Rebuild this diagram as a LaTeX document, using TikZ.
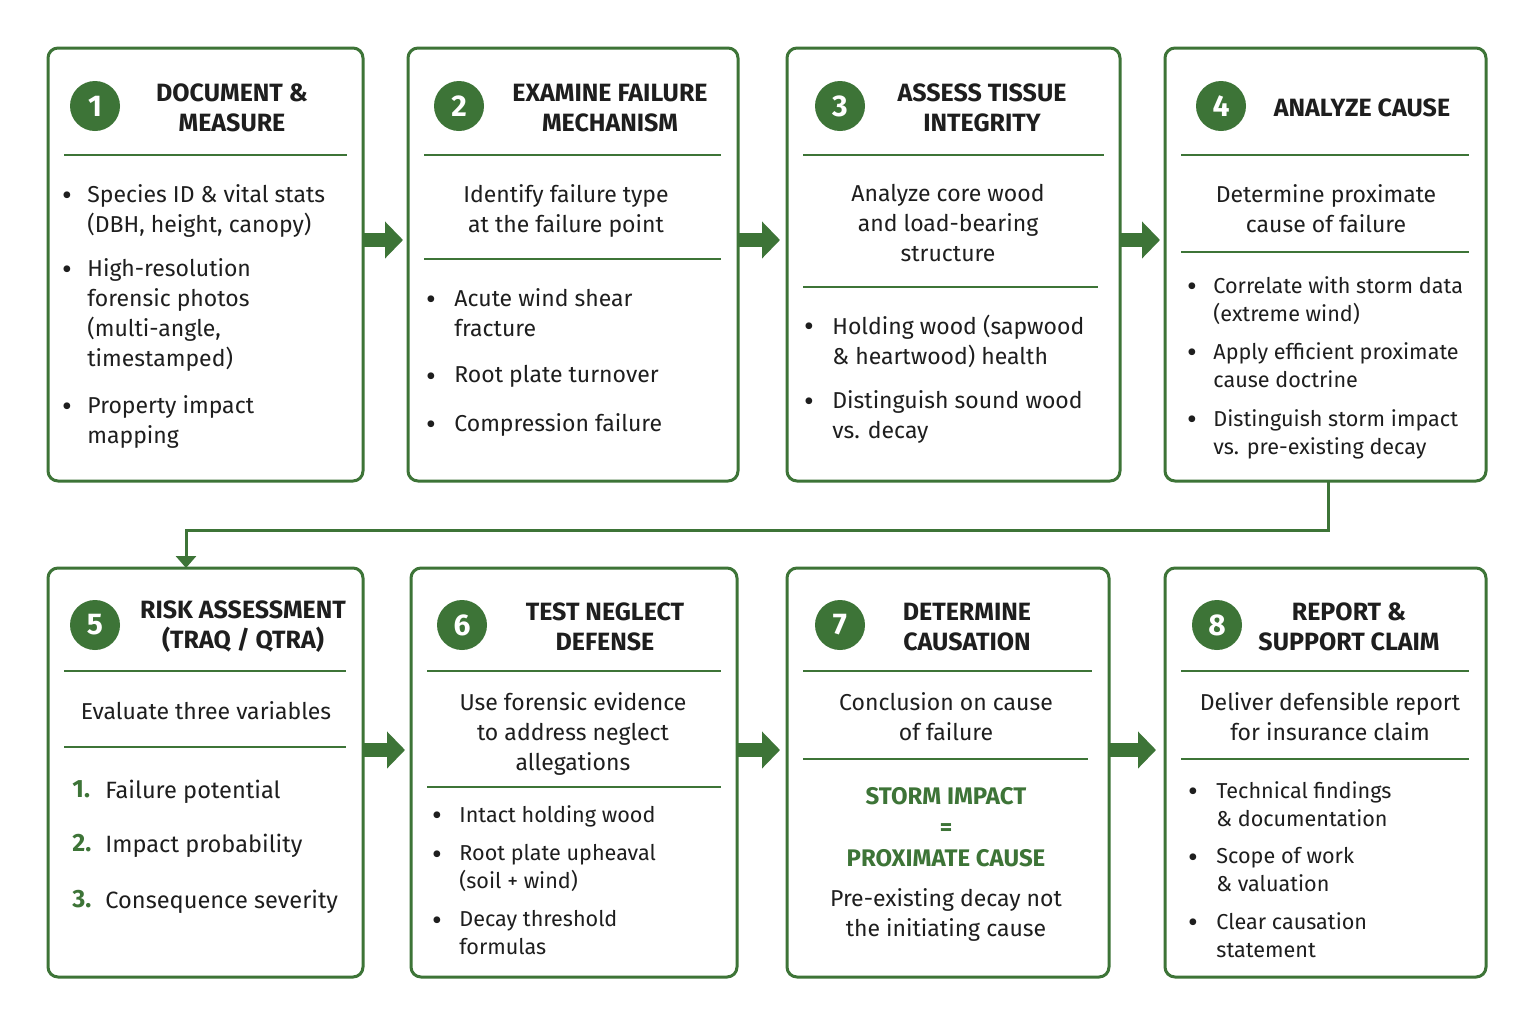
\documentclass[tikz,border=0pt]{standalone}
\usepackage{fontspec}
\setmainfont{Fira Sans}
\usetikzlibrary{arrows.meta}
\definecolor{gr}{HTML}{3D7437}
\definecolor{tx}{HTML}{1E1E1E}
\begin{document}
\begin{tikzpicture}[x=0.5pt,y=-0.5pt,
 box/.style={draw=gr,line width=1.5pt,rounded corners=5pt,fill=white},
 num/.style={circle,fill=gr,minimum size=25pt,inner sep=0,text=white,font=\fontsize{15}{15}\selectfont\bfseries},
 ttl/.style={font=\fontsize{12.5}{15}\selectfont\bfseries,align=center,text=tx,inner sep=0},
 sep/.style={draw=gr,line width=1.1pt},
 ct/.style={font=\fontsize{11.5}{15}\selectfont,align=center,anchor=north,inner sep=0,text=tx,yshift=-2.5pt},
 bt/.style={font=\fontsize{11.5}{15}\selectfont,align=left,anchor=north west,inner sep=0,text=tx,yshift=-2.5pt},
 bt2/.style={font=\fontsize{10.8}{14}\selectfont,align=left,anchor=north west,inner sep=0,text=tx,yshift=-2.5pt},
 bul/.style={font=\fontsize{15}{15}\selectfont,anchor=center,inner sep=0,text=tx,yshift=-3pt},
 blk/.style={draw=gr,line width=7pt,-{Triangle[length=9pt,width=18pt]},shorten >=0pt},
 flow/.style={draw=gr,line width=1.5pt,-{Triangle[length=6pt,width=10pt]}}]
\useasboundingbox (0,0) rectangle (1536,1024);
\fill[white] (0,0) rectangle (1536,1024);
% boxes
\draw[box] (48,48) rectangle (363,481); \node (b1) at (205,264) {};
\draw[box] (408,48) rectangle (738,481); \node (b2) at (573,264) {};
\draw[box] (787,48) rectangle (1120,481); \node (b3) at (953,264) {};
\draw[box] (1165,48) rectangle (1486,481); \node (b4) at (1325,264) {};
\draw[box] (48,568) rectangle (363,977); \node (b5) at (205,772) {};
\draw[box] (411,568) rectangle (737,977); \node (b6) at (574,772) {};
\draw[box] (787,568) rectangle (1109,977); \node (b7) at (948,772) {};
\draw[box] (1165,568) rectangle (1486,977); \node (b8) at (1325,772) {};
% numbers and titles
\node[num] (n1) at (95,106) {1};
\node[num] (n2) at (459,106) {2};
\node[num] (n3) at (840,106) {3};
\node[num] (n4) at (1221,106) {4};
\node[num] (n5) at (95,625) {5};
\node[num] (n6) at (462,625) {6};
\node[num] (n7) at (840,625) {7};
\node[num] (n8) at (1217,625) {8};
\node[ttl] (t1) at (232,108) {DOCUMENT \&\\MEASURE};
\node[ttl] (t2) at (610,108) {EXAMINE FAILURE\\MECHANISM};
\node[ttl] (t3) at (982,108) {ASSESS TISSUE\\INTEGRITY};
\node[ttl] (t4) at (1362,108) {ANALYZE CAUSE};
\node[ttl] (t5) at (243,627) {RISK ASSESSMENT\\(TRAQ / QTRA)};
\node[ttl] (t6) at (605,627) {TEST NEGLECT\\DEFENSE};
\node[ttl] (t7) at (967,627) {DETERMINE\\CAUSATION};
\node[ttl] (t8) at (1349,627) {REPORT \&\\SUPPORT CLAIM};
% separators
\draw[sep] (64,155)--(347,155);
\draw[sep] (424,155)--(721,155); \draw[sep] (424,259)--(721,259);
\draw[sep] (803,155)--(1104,155); \draw[sep] (803,287)--(1098,287);
\draw[sep] (1181,155)--(1469,155); \draw[sep] (1181,252)--(1469,252);
\draw[sep] (64,671)--(346,671); \draw[sep] (64,747)--(346,747);
\draw[sep] (427,671)--(721,671); \draw[sep] (427,787)--(721,787);
\draw[sep] (803,671)--(1092,671); \draw[sep] (803,759)--(1088,759);
\draw[sep] (1181,671)--(1469,671); \draw[sep] (1181,759)--(1469,759);
% box 1
\node[bul] at (67,193) {•}; \node[bt] at (87,179) {Species ID \& vital stats\\(DBH, height, canopy)};
\node[bul] at (67,267) {•}; \node[bt] at (87,253) {High-resolution\\forensic photos\\(multi-angle,\\timestamped)};
\node[bul] at (67,404) {•}; \node[bt] at (87,390) {Property impact\\mapping};
% box 2
\node[ct] at (566,179) {Identify failure type\\at the failure point};
\node[bul] at (431,297) {•}; \node[bt] at (454,283) {Acute wind shear\\fracture};
\node[bul] at (431,374) {•}; \node[bt] at (454,360) {Root plate turnover};
\node[bul] at (431,422) {•}; \node[bt] at (454,408) {Compression failure};
% box 3
\node[ct] at (948,179) {Analyze core wood\\and load-bearing\\structure};
\node[bul] at (809,324) {•}; \node[bt] at (832,310) {Holding wood (sapwood\\\& heartwood) health};
\node[bul] at (809,399) {•}; \node[bt] at (832,385) {Distinguish sound wood\\vs. decay};
% box 4
\node[ct] at (1326,179) {Determine proximate\\cause of failure};
\node[bul] at (1192,284) {•}; \node[bt2] at (1213,271) {Correlate with storm data\\(extreme wind)};
\node[bul] at (1192,350) {•}; \node[bt2] at (1213,337) {Apply efficient proximate\\cause doctrine};
\node[bul] at (1192,417) {•}; \node[bt2] at (1213,404) {Distinguish storm impact\\vs. pre-existing decay};
% box 5
\node[ct] at (206,696) {Evaluate three variables};
\node[bt,text=gr,font=\fontsize{12.5}{15}\selectfont\bfseries] at (72,775) {1.};
\node[bt,font=\fontsize{11.8}{15}\selectfont] at (105,775) {Failure potential};
\node[bt,text=gr,font=\fontsize{12.5}{15}\selectfont\bfseries] at (72,829) {2.};
\node[bt,font=\fontsize{11.8}{15}\selectfont] at (105,829) {Impact probability};
\node[bt,text=gr,font=\fontsize{12.5}{15}\selectfont\bfseries] at (72,885) {3.};
\node[bt,font=\fontsize{11.8}{15}\selectfont] at (105,885) {Consequence severity};
% box 6
\node[ct] at (573,687) {Use forensic evidence\\to address neglect\\allegations};
\node[bul] at (437,813) {•}; \node[bt2] at (459,800) {Intact holding wood};
\node[bul] at (437,852) {•}; \node[bt2] at (459,839) {Root plate upheaval\\(soil + wind)};
\node[bul] at (437,918) {•}; \node[bt2] at (459,905) {Decay threshold\\formulas};
% box 7
\node[ct] at (946,687) {Conclusion on cause\\of failure};
\node[ct,text=gr,font=\fontsize{12}{15.5}\selectfont\bfseries] at (946,782) {STORM IMPACT\\[0pt]=\\[0pt]PROXIMATE CAUSE};
\node[ct] at (946,883) {Pre-existing decay not\\the initiating cause};
% box 8
\node[ct] at (1330,687) {Deliver defensible report\\for insurance claim};
\node[bul] at (1193,789) {•}; \node[bt2] at (1216,776) {Technical findings\\\& documentation};
\node[bul] at (1193,855) {•}; \node[bt2] at (1216,842) {Scope of work\\\& valuation};
\node[bul] at (1193,920) {•}; \node[bt2] at (1216,907) {Clear causation\\statement};
% arrows
\coordinate (a1s) at (364,240); \coordinate (a1e) at (403,240);
\coordinate (a2s) at (739,240); \coordinate (a2e) at (780,240);
\coordinate (a3s) at (1121,240); \coordinate (a3e) at (1160,240);
\coordinate (a5s) at (364,750); \coordinate (a5e) at (405,750);
\coordinate (a6s) at (738,750); \coordinate (a6e) at (780,750);
\coordinate (a7s) at (1110,750); \coordinate (a7e) at (1156,750);
\draw[blk] (a1s)--(a1e); \draw[blk] (a2s)--(a2e); \draw[blk] (a3s)--(a3e);
\draw[blk] (a5s)--(a5e); \draw[blk] (a6s)--(a6e); \draw[blk] (a7s)--(a7e);
\coordinate (c4) at (1328,482); \coordinate (c5) at (186,568);
\draw[flow] (c4) -- (1328,530) -- (186,530) -- (c5);
\end{tikzpicture}
\end{document}
